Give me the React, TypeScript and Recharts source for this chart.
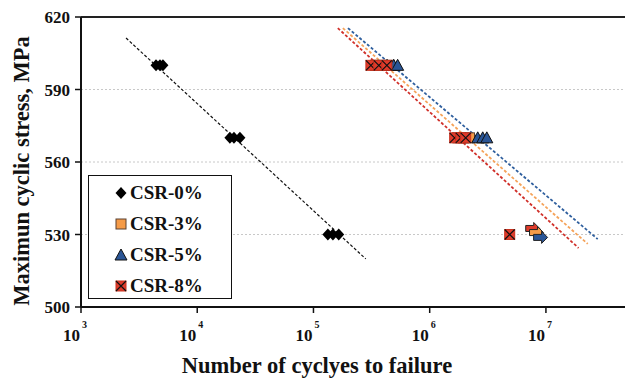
import React from 'react';
import {
  ScatterChart,
  Scatter,
  XAxis,
  YAxis,
  CartesianGrid,
  Legend,
  ReferenceLine,
  Label,
} from 'recharts';

// fatigue test points (cycles to failure vs max stress)
const csr0 = [
  { n: 4420, s: 600 }, { n: 4780, s: 600 }, { n: 5070, s: 600 },
  { n: 19100, s: 570 }, { n: 20700, s: 570 }, { n: 23300, s: 570 },
  { n: 133000, s: 530 }, { n: 147000, s: 530 }, { n: 165000, s: 530 },
];
const csr3 = [
  { n: 340000, s: 600 }, { n: 390000, s: 600 }, { n: 450000, s: 600 },
  { n: 1750000, s: 570 }, { n: 1950000, s: 570 }, { n: 2200000, s: 570 },
];
const csr5 = [
  { n: 430000, s: 600 }, { n: 490000, s: 600 }, { n: 530000, s: 600 },
  { n: 2590000, s: 570 }, { n: 2860000, s: 570 }, { n: 3100000, s: 570 },
];
const csr8 = [
  { n: 312000, s: 600 }, { n: 365000, s: 600 }, { n: 428000, s: 600 },
  { n: 1640000, s: 570 }, { n: 1850000, s: 570 }, { n: 2040000, s: 570 },
  { n: 4880000, s: 530 },
];
// run-outs (no failure)
const runout8 = [{ n: 7700000, s: 532.5 }];
const runout3 = [{ n: 8300000, s: 530.8 }];
const runout5 = [{ n: 9000000, s: 528.8 }];

// trend lines (end points)
const fit0 = [{ n: 2440, s: 611.3 }, { n: 282000, s: 519.9 }];
const fit8 = [{ n: 162000, s: 615.4 }, { n: 19100000, s: 524.4 }];
const fit3 = [{ n: 179000, s: 615.4 }, { n: 22900000, s: 526.1 }];
const fit5 = [{ n: 198000, s: 615.4 }, { n: 27900000, s: 528.1 }];

const xTicks = [1e3, 1e4, 1e5, 1e6, 1e7];
const yTicks = [500, 530, 560, 590, 620];
const gridValues = [530, 560, 590];

const legendItems = ['CSR-0%', 'CSR-3%', 'CSR-5%', 'CSR-8%'];

const RED = '#E03B2B';
const ORANGE = '#F59B48';
const BLUE = '#2A5596';
const FONT = "'Liberation Serif', 'Times New Roman', serif";

const Diamond = ({ cx, cy }: any) => (
  <path d={`M${cx},${cy - 6} L${cx + 5.5},${cy} L${cx},${cy + 6} L${cx - 5.5},${cy} Z`} fill="#000" />
);
const Square = ({ cx, cy }: any) => (
  <rect x={cx - 5} y={cy - 5} width={10} height={10} fill={ORANGE} stroke="#5a4030" strokeWidth={1} />
);
const Triangle = ({ cx, cy }: any) => (
  <path d={`M${cx},${cy - 6} L${cx + 6},${cy + 5} L${cx - 6},${cy + 5} Z`} fill={BLUE} stroke="#111" strokeWidth={1} />
);
const XSquare = ({ cx, cy }: any) => (
  <g>
    <rect x={cx - 5} y={cy - 5} width={10} height={10} fill={RED} stroke="#c8321f" strokeWidth={1} />
    <path d={`M${cx - 5},${cy - 5} L${cx + 5},${cy + 5} M${cx + 5},${cy - 5} L${cx - 5},${cy + 5}`} stroke="#111" strokeWidth={1.2} />
  </g>
);
const makeArrow = (fill: string) => ({ cx, cy }: any) => (
  <path
    d={`M${cx - 7},${cy - 3} L${cx + 1},${cy - 3} L${cx + 1},${cy - 6} L${cx + 7},${cy} L${cx + 1},${cy + 6} L${cx + 1},${cy + 3} L${cx - 7},${cy + 3} Z`}
    fill={fill}
    stroke="#222"
    strokeWidth={1}
  />
);
const NoDot = () => <g />;

const XTick = ({ x, y, payload }: any) => {
  const exp = Math.round(Math.log10(payload.value));
  return (
    <g fontFamily={FONT} fontWeight="bold" fill="#111">
      <text x={x - 1} y={y + 26} textAnchor="end" fontSize={17}>10</text>
      <text x={x + 1} y={y + 13} textAnchor="start" fontSize={10}>{exp}</text>
    </g>
  );
};

const legendShapes = [Diamond, Square, Triangle, XSquare];

const LegendBox = () => (
  <div
    style={{
      width: 144,
      height: 124,
      border: '1.5px solid #111',
      background: '#fff',
      boxSizing: 'border-box',
      paddingTop: 1,
      fontFamily: FONT,
      fontWeight: 'bold',
      fontSize: 19,
      color: '#111',
    }}
  >
    {legendItems.map((name, i) => {
      const Shape = legendShapes[i];
      return (
        <div key={name} style={{ display: 'flex', alignItems: 'center', height: 31, paddingLeft: 24 }}>
          <svg width={16} height={16} style={{ marginRight: 1 }}>
            <Shape cx={8} cy={8} />
          </svg>
          <span>{name}</span>
        </div>
      );
    })}
  </div>
);

export default function App() {
  return (
    <div style={{ position: 'absolute', left: 0, top: 0, width: 625, height: 378, background: '#fff' }}>
      <ScatterChart width={625} height={378} margin={{ top: 17, right: 0, bottom: 31, left: 0 }}>
        <CartesianGrid
          vertical={false}
          horizontalValues={gridValues}
          stroke="#c8c8c8"
          strokeDasharray="2 2"
        />
        <XAxis
          type="number"
          dataKey="n"
          scale="log"
          domain={[1000, 47900000]}
          allowDataOverflow
          ticks={xTicks}
          height={40}
          tick={<XTick />}
          tickSize={6}
          axisLine={{ stroke: '#111', strokeWidth: 2 }}
          tickLine={{ stroke: '#111', strokeWidth: 1.5 }}
        >
          <Label
            content={() => (
              <text x={317} y={373} textAnchor="middle" fontFamily={FONT} fontWeight="bold" fontSize={22.5} fill="#111">
                Number of cyclyes to failure
              </text>
            )}
          />
        </XAxis>
        <YAxis
          type="number"
          dataKey="s"
          domain={[500, 620]}
          ticks={yTicks}
          width={81}
          tickSize={6}
          tickMargin={5}
          tick={{ fontFamily: FONT, fontWeight: 'bold', fontSize: 17, fill: '#111' }}
          axisLine={{ stroke: '#111', strokeWidth: 2 }}
          tickLine={{ stroke: '#111', strokeWidth: 1.5 }}
        >
          <Label
            content={() => (
              <text
                x={29}
                y={171}
                transform="rotate(-90 29 171)"
                textAnchor="middle"
                fontFamily={FONT}
                fontWeight="bold"
                fontSize={22.5}
                fill="#111"
              >
                Maximun cyclic stress, MPa
              </text>
            )}
          />
        </YAxis>
        <ReferenceLine y={620} stroke="#222" strokeWidth={2} />
        <Legend
          layout="vertical"
          align="center"
          verticalAlign="middle"
          content={() => <LegendBox />}
          wrapperStyle={{ left: 88, top: 175, width: 144, height: 124 }}
        />

        <Scatter data={fit0} line={{ stroke: '#111', strokeWidth: 1.2, strokeDasharray: '3 2' }} shape={NoDot} isAnimationActive={false} legendType="none" />
        <Scatter data={fit8} line={{ stroke: '#D0302A', strokeWidth: 1.8, strokeDasharray: '3 2' }} shape={NoDot} isAnimationActive={false} legendType="none" />
        <Scatter data={fit3} line={{ stroke: '#F5A35A', strokeWidth: 1.8, strokeDasharray: '3 2' }} shape={NoDot} isAnimationActive={false} legendType="none" />
        <Scatter data={fit5} line={{ stroke: '#2F5F9E', strokeWidth: 1.8, strokeDasharray: '3 2' }} shape={NoDot} isAnimationActive={false} legendType="none" />

        <Scatter name="CSR-0%" data={csr0} shape={Diamond} isAnimationActive={false} />
        <Scatter name="CSR-3%" data={csr3} shape={Square} isAnimationActive={false} />
        <Scatter name="CSR-5%" data={csr5} shape={Triangle} isAnimationActive={false} />
        <Scatter name="CSR-8%" data={csr8} shape={XSquare} isAnimationActive={false} />

        <Scatter data={runout8} shape={makeArrow(RED)} isAnimationActive={false} legendType="none" />
        <Scatter data={runout3} shape={makeArrow(ORANGE)} isAnimationActive={false} legendType="none" />
        <Scatter data={runout5} shape={makeArrow(BLUE)} isAnimationActive={false} legendType="none" />
      </ScatterChart>
    </div>
  );
}
